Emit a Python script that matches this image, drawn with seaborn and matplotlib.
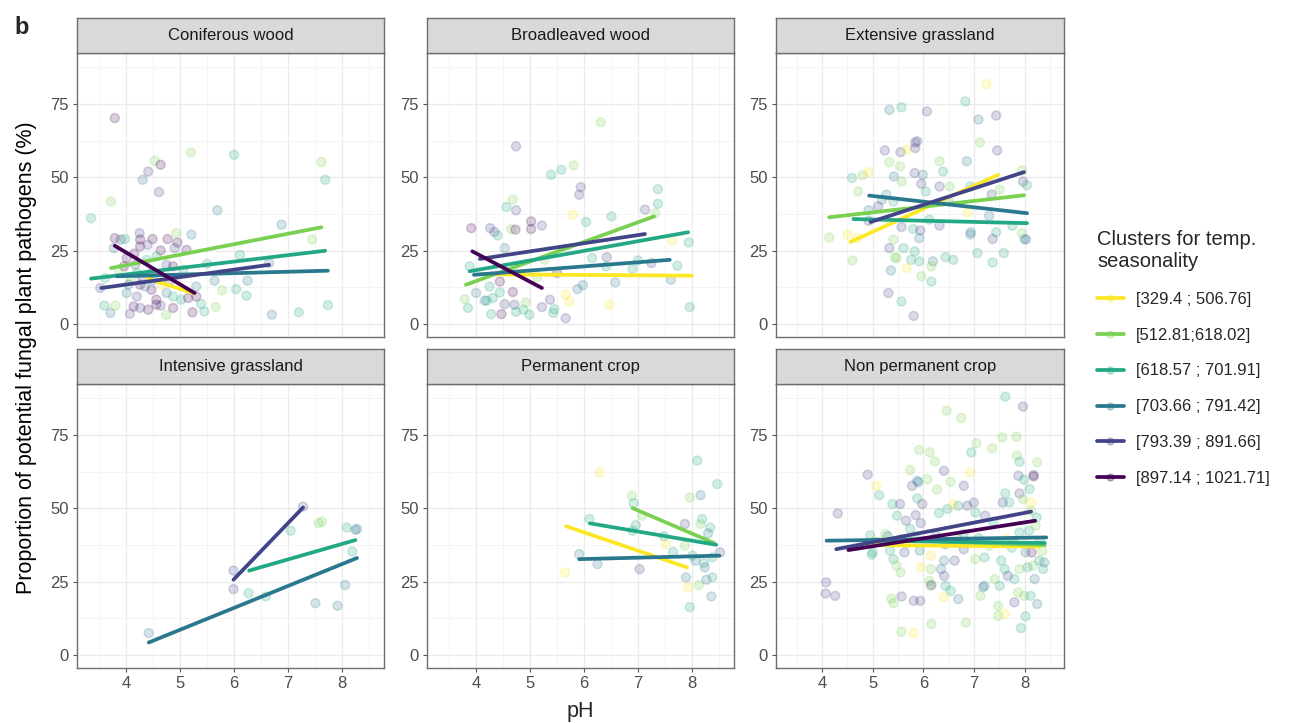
import matplotlib
matplotlib.use("Agg")
import matplotlib.pyplot as plt
from matplotlib.lines import Line2D
import pandas as pd
import seaborn as sns

# --- Data ---
CLUSTERS = ["[329.4 ; 506.76]", "[512.81;618.02]", "[618.57 ; 701.91]",
            "[703.66 ; 791.42]", "[793.39 ; 891.66]", "[897.14 ; 1021.71]"]
PALETTE = ["#FDE725", "#7AD151", "#22A884", "#2A788E", "#414487", "#440154"]
PANELS = ["Coniferous wood", "Broadleaved wood", "Extensive grassland",
          "Intensive grassland", "Permanent crop", "Non permanent crop"]

conif_ph = [3.79, 3.35, 3.72, 4.31, 4.41, 4.53, 4.64, 4.61, 5.20, 6.00,
            5.69, 6.88, 7.62, 7.69, 7.45, 7.74, 7.20, 6.70, 6.23, 6.25,
            6.04, 5.78, 6.11, 5.50, 5.64, 5.21, 5.66, 5.45, 5.39, 6.65,
            5.12,
            3.79, 3.90, 3.98, 4.25, 4.26, 4.49, 4.77, 4.95, 4.90, 4.64,
            4.26, 3.77, 4.01, 3.96, 4.17, 4.38, 4.56, 4.75, 4.87, 5.06,
            4.10, 4.26, 4.47, 4.66, 4.01, 4.20, 4.35, 4.56, 4.75, 4.87,
            5.02, 5.15, 5.30, 4.14, 4.26, 4.41, 4.56, 4.64, 4.74, 4.87,
            5.23, 4.07, 3.71, 3.60, 3.80, 3.52, 3.61, 3.86, 4.20, 4.47,
            4.93, 5.30, 4.05, 4.30, 4.50, 4.80, 4.15, 4.40]
conif_pct = [70.2, 36.1, 41.8, 49.2, 52.0, 55.7, 54.3, 45.0, 58.5, 57.7,
             38.8, 33.9, 55.2, 49.2, 28.8, 6.5, 4.0, 3.2, 9.7, 14.8,
             11.9, 11.5, 23.6, 20.5, 14.8, 30.5, 5.8, 4.3, 6.9, 20.8,
             25.3,
             29.3, 28.8, 29.0, 31.0, 28.8, 29.0, 29.0, 27.8, 25.9, 25.1,
             26.5, 25.9, 22.5, 19.7, 20.2, 21.9, 23.1, 20.2, 19.7, 18.5,
             15.1, 13.4, 11.7, 13.4, 10.6, 9.4, 12.8, 8.3, 10.6, 9.4,
             8.3, 8.9, 9.4, 6.0, 5.5, 4.9, 6.6, 6.3, 3.2, 5.5,
             4.0, 3.5, 3.8, 6.3, 6.3, 12.3, 15.7, 18.5, 17.4, 17.4,
             31.0, 12.8, 13.5, 16.0, 15.0, 14.5, 24.0, 27.0]
conif_cl = [6, 3, 2, 4, 5, 2, 6, 5, 2, 3,
            4, 4, 2, 3, 2, 3, 3, 4, 3, 4,
            3, 2, 3, 3, 4, 4, 2, 3, 3, 4,
            6,
            6, 5, 3, 5, 6, 6, 6, 6, 5, 6,
            6, 4, 6, 6, 5, 3, 3, 5, 6, 3,
            2, 6, 6, 1, 4, 5, 4, 6, 4, 3,
            3, 6, 6, 6, 5, 6, 6, 5, 2, 6,
            6, 5, 4, 3, 2, 5, 3, 2, 3, 6,
            2, 4, 4, 5, 4, 5, 6, 5]

broad_ph = [4.74, 6.31, 5.39, 5.58, 5.81, 5.94, 5.91, 4.68, 4.56, 4.74,
            6.51, 6.04, 5.79, 3.91, 4.26, 4.34, 4.40, 4.65, 4.73, 5.02,
            5.02, 5.22, 7.13, 7.32, 7.37, 7.37, 7.94, 7.64, 7.73, 7.61,
            7.96, 6.47, 6.15, 6.42, 6.41, 6.58, 5.98, 5.88, 6.90, 7.00,
            7.25, 5.66, 5.73, 5.50, 4.53, 4.44, 4.44, 4.25, 4.00, 3.79,
            3.85, 4.16, 4.20, 4.31, 4.53, 4.71, 4.68, 4.28, 4.47, 4.74,
            4.88, 4.99, 4.92, 5.22, 5.37, 5.43, 5.45, 5.66, 3.88, 5.13,
            5.27]
broad_pct = [60.6, 68.8, 50.9, 52.6, 54.1, 46.7, 44.1, 42.4, 39.9, 38.8,
             36.7, 34.8, 37.3, 32.7, 32.7, 31.4, 30.2, 32.4, 32.2, 35.0,
             32.4, 33.6, 39.0, 37.8, 41.0, 46.0, 27.8, 28.5, 19.9, 15.1,
             5.8, 6.6, 22.5, 22.8, 19.7, 14.2, 13.3, 11.9, 18.8, 21.7,
             20.8, 10.0, 7.7, 17.4, 25.9, 14.5, 10.8, 12.8, 10.6, 8.5,
             5.5, 8.0, 8.0, 8.9, 6.8, 6.6, 10.9, 3.4, 3.4, 4.2,
             4.9, 3.2, 7.4, 5.8, 8.3, 3.8, 5.1, 2.0, 19.7, 16.0,
             21.9]
broad_cl = [5, 2, 3, 3, 2, 5, 5, 2, 3, 5,
            3, 3, 1, 6, 5, 5, 3, 2, 6, 6,
            6, 5, 5, 2, 3, 3, 3, 1, 3, 4,
            3, 1, 3, 5, 3, 4, 4, 4, 3, 3,
            5, 1, 1, 6, 4, 6, 3, 3, 4, 2,
            3, 4, 3, 3, 5, 5, 6, 3, 6, 3,
            3, 3, 2, 5, 5, 3, 3, 5, 3, 2,
            2]

ext_ph = [7.25, 5.33, 5.57, 6.07, 6.83, 7.09, 7.44, 7.12, 7.46, 5.24,
          5.55, 5.67, 5.84, 5.88, 5.84, 5.33, 5.54, 6.32, 6.39, 6.86,
          5.42, 4.59, 4.80, 4.92, 4.71, 5.57, 5.83, 5.99, 6.05, 5.96,
          6.32, 6.52, 6.93, 7.51, 7.95, 7.97, 8.05, 7.35, 7.30, 7.44,
          7.37, 7.95, 8.00, 8.03, 7.76, 7.59, 7.37, 7.07, 6.93, 6.94,
          6.88, 6.50, 6.32, 6.44, 6.59, 6.19, 6.16, 6.16, 5.96, 5.83,
          5.92, 5.76, 5.67, 5.61, 5.41, 5.33, 5.44, 5.47, 5.36, 5.31,
          5.57, 5.81, 5.57, 5.80, 5.94, 5.92, 6.12, 5.11, 4.92, 4.92,
          5.27, 5.41, 4.50, 4.14, 4.60, 4.69, 5.18]
ext_pct = [81.8, 73.0, 73.9, 72.5, 75.9, 69.7, 71.1, 61.9, 59.2, 59.2,
           58.6, 59.4, 61.9, 62.3, 60.0, 55.2, 53.8, 55.5, 52.0, 55.5,
           50.3, 49.8, 50.7, 51.8, 45.2, 48.6, 51.5, 50.9, 45.2, 47.8,
           46.9, 46.9, 46.9, 45.8, 52.4, 48.6, 47.3, 44.2, 36.9, 31.3,
           29.0, 31.0, 29.0, 28.8, 33.5, 24.2, 21.0, 24.2, 30.5, 31.3,
           38.1, 41.8, 33.6, 22.8, 21.9, 21.4, 19.7, 14.5, 16.3, 24.8,
           21.4, 21.9, 19.1, 25.9, 28.8, 25.9, 22.7, 22.5, 18.3, 10.6,
           7.7, 2.8, 33.1, 32.4, 31.9, 29.3, 35.6, 40.1, 38.8, 35.2,
           44.1, 41.8, 30.5, 29.5, 21.7, 29.3, 42.4]
ext_cl = [1, 4, 3, 5, 3, 4, 5, 2, 5, 5,
          5, 1, 5, 5, 5, 2, 2, 2, 3, 4,
          4, 3, 2, 1, 2, 2, 5, 4, 3, 5,
          5, 2, 3, 2, 2, 5, 3, 5, 4, 3,
          5, 2, 4, 4, 3, 3, 3, 3, 4, 4,
          1, 3, 5, 3, 3, 4, 2, 3, 2, 3,
          3, 3, 1, 3, 2, 5, 2, 2, 4, 5,
          3, 5, 5, 3, 5, 4, 3, 5, 4, 5,
          4, 3, 1, 2, 2, 1, 4]

int_ph = [4.42, 5.99, 5.99, 6.27, 6.59, 7.05, 7.28, 7.57, 7.63, 7.51,
          7.92, 8.06, 8.09, 8.25, 8.28, 8.19]
int_pct = [7.5, 28.8, 22.5, 21.1, 20.0, 42.4, 50.6, 45.0, 45.5, 17.7,
           16.8, 23.9, 43.5, 42.7, 43.0, 35.3]
int_cl = [4, 5, 5, 3, 3, 3, 5, 2, 2, 4,
          4, 4, 3, 4, 4, 3]

perm_ph = [6.29, 5.65, 5.91, 6.10, 6.25, 6.89, 6.92, 6.96, 7.08, 6.90,
           7.03, 7.48, 7.65, 7.87, 7.96, 8.10, 8.47, 8.16, 8.19, 8.34,
           8.30, 8.16, 7.87, 7.89, 7.93, 7.96, 8.13, 8.27, 8.38, 8.36,
           8.52, 8.07, 8.22, 8.24, 8.38, 8.01, 7.51]
perm_pct = [62.3, 28.2, 34.4, 46.4, 31.0, 54.3, 51.8, 44.3, 47.5, 42.4,
            29.3, 40.5, 35.2, 44.7, 53.7, 66.3, 58.3, 54.5, 46.4, 43.5,
            41.5, 44.7, 37.3, 26.5, 23.1, 16.3, 23.9, 25.7, 26.5, 20.0,
            35.0, 32.2, 31.4, 29.9, 33.3, 33.9, 37.8]
perm_cl = [1, 1, 4, 3, 4, 2, 3, 3, 2, 3,
           5, 3, 3, 5, 2, 3, 3, 4, 3, 3,
           4, 2, 2, 4, 1, 3, 2, 4, 3, 4,
           5, 4, 3, 4, 3, 3, 1]

nonperm_ph = [7.62, 7.97, 6.46, 6.75, 7.56, 7.84, 7.05, 7.36, 6.95, 5.92,
              6.13, 6.23, 7.85, 7.90, 8.25, 4.90, 5.74, 6.41, 6.92, 7.88,
              7.99, 8.18, 8.18, 5.13, 5.07, 5.88, 5.90, 5.78, 6.08, 6.54,
              6.80, 6.27, 7.62, 7.57, 7.90, 8.10, 5.88, 5.98, 4.31, 5.39,
              5.54, 5.48, 5.66, 5.85, 5.95, 6.31, 6.48, 6.59, 6.69, 6.87,
              7.00, 7.03, 7.22, 7.38, 7.70, 7.97, 8.13, 8.24, 4.08, 4.07,
              4.26, 5.00, 5.25, 5.34, 5.41, 5.47, 5.55, 5.57, 5.63, 5.74,
              5.72, 5.93, 6.15, 5.95, 6.15, 6.12, 6.15, 6.35, 6.41, 6.44,
              6.54, 6.40, 6.69, 6.62, 6.41, 6.80, 7.03, 7.21, 7.18, 7.21,
              7.13, 7.41, 7.51, 7.54, 7.61, 7.67, 7.80, 7.87, 7.80, 7.99,
              8.12, 8.25, 7.48, 7.48, 7.61, 8.02, 7.93, 6.84, 6.16, 5.57,
              5.81, 5.37, 5.41, 5.57, 5.81, 5.94, 6.16, 8.14, 8.17, 8.29,
              8.37, 8.39, 8.20, 8.06, 7.90, 8.02, 7.77, 7.90, 7.64, 8.13,
              8.09, 8.22, 6.70, 6.80, 6.43, 4.98, 5.30, 5.85, 6.25, 6.60,
              7.10, 7.30, 7.75, 8.30, 8.35, 4.95]
nonperm_pct = [88.1, 84.7, 83.3, 80.8, 74.2, 74.4, 72.2, 70.5, 69.1, 69.9,
               69.1, 66.0, 68.0, 65.9, 65.7, 61.5, 63.1, 62.8, 62.3, 61.1,
               59.8, 61.4, 60.9, 54.5, 57.7, 59.4, 58.9, 57.7, 60.0, 59.1,
               57.7, 56.4, 55.1, 52.0, 55.1, 56.6, 53.4, 51.5, 48.3, 51.5,
               51.5, 47.5, 45.8, 47.7, 45.0, 48.4, 49.8, 51.5, 50.9, 50.9,
               52.0, 48.6, 47.5, 45.5, 52.0, 53.2, 49.2, 46.9, 24.8, 21.0,
               20.2, 35.0, 41.3, 35.6, 32.7, 30.5, 28.2, 39.5, 35.0, 43.0,
               38.2, 35.6, 33.9, 29.9, 29.3, 25.3, 23.6, 29.3, 27.0, 23.6,
               21.9, 19.7, 19.1, 32.2, 32.2, 36.1, 32.7, 33.3, 23.1, 23.6,
               20.2, 25.9, 23.6, 32.2, 29.3, 27.0, 25.9, 21.4, 18.0, 20.2,
               20.2, 17.4, 16.8, 13.4, 14.0, 13.2, 9.2, 11.1, 10.6, 8.0,
               7.5, 19.3, 17.7, 20.0, 18.5, 18.5, 23.9, 35.0, 30.5, 32.2,
               29.3, 31.6, 25.9, 29.9, 29.3, 35.0, 38.4, 41.8, 39.5, 52.0,
               42.4, 44.1, 39.5, 41.3, 37.8, 34.2, 40.5, 40.5, 40.8, 38.5,
               39.8, 37.2, 36.6, 38.8, 35.5, 40.8]
nonperm_cl = [3, 5, 2, 2, 2, 2, 2, 2, 3, 2,
              2, 2, 2, 3, 2, 5, 2, 5, 1, 5,
              3, 5, 6, 3, 1, 4, 4, 5, 2, 2,
              5, 2, 3, 5, 5, 3, 3, 5, 5, 3,
              5, 3, 5, 5, 5, 3, 3, 1, 3, 5,
              5, 3, 5, 3, 3, 2, 2, 3, 5, 5,
              5, 3, 2, 3, 3, 2, 2, 3, 5, 3,
              1, 4, 1, 1, 2, 2, 2, 4, 5, 3,
              3, 1, 4, 5, 4, 5, 2, 3, 4, 4,
              2, 2, 3, 3, 3, 5, 3, 2, 5, 2,
              3, 4, 2, 2, 1, 3, 3, 2, 2, 2,
              1, 2, 2, 5, 5, 5, 5, 6, 2, 3,
              3, 4, 4, 3, 2, 4, 3, 3, 1, 1,
              3, 2, 2, 3, 5, 3, 4, 3, 4, 3,
              3, 2, 3, 3, 2, 3]

# fitted lines (start / end of each cluster's regression line per panel)
line_panel = [0, 0, 0, 0, 0, 0, 1, 1, 1, 1, 1, 1, 2, 2, 2, 2, 2,
              3, 3, 3, 4, 4, 4, 4, 5, 5, 5, 5, 5, 5]
line_cl = [1, 2, 3, 4, 5, 6, 1, 2, 3, 4, 5, 6, 1, 2, 3, 4, 5,
           3, 4, 5, 1, 2, 3, 4, 1, 2, 3, 4, 5, 6]
line_ph0 = [4.40, 3.72, 3.35, 3.83, 3.54, 3.79, 4.10, 3.81, 3.88, 3.96, 4.07, 3.93,
            4.56, 4.14, 4.62, 4.93, 4.96, 6.28, 4.42, 5.99, 5.67, 6.90, 6.11, 5.91,
            5.00, 5.00, 5.00, 4.09, 4.28, 4.52]
line_ph1 = [5.26, 7.62, 7.69, 7.74, 6.65, 5.27, 8.00, 7.30, 7.93, 7.59, 7.13, 5.22,
            7.48, 7.99, 8.05, 8.05, 7.99, 8.25, 8.28, 7.28, 7.91, 8.41, 8.45, 8.51,
            8.30, 8.40, 8.40, 8.43, 8.13, 8.21]
line_pct0 = [15.5, 19.1, 15.5, 16.3, 12.3, 26.7, 17.0, 13.4, 18.0, 16.8, 22.2, 24.8,
             28.0, 36.4, 35.8, 43.8, 34.8, 28.8, 4.3, 25.7, 43.9, 50.1, 44.9, 32.7,
             37.5, 39.5, 39.0, 39.0, 36.1, 35.8]
line_pct1 = [10.5, 33.0, 25.0, 18.2, 20.2, 10.6, 16.5, 36.7, 31.3, 21.9, 30.7, 12.3,
             50.9, 43.9, 34.4, 37.8, 51.8, 39.2, 33.1, 50.3, 29.9, 38.2, 37.6, 33.9,
             37.0, 37.5, 38.2, 40.1, 48.9, 45.8]

# --- Build tables ---
point_sets = [(conif_ph, conif_pct, conif_cl), (broad_ph, broad_pct, broad_cl),
              (ext_ph, ext_pct, ext_cl), (int_ph, int_pct, int_cl),
              (perm_ph, perm_pct, perm_cl), (nonperm_ph, nonperm_pct, nonperm_cl)]
frames = []
for name, (ph, pct, cl) in zip(PANELS, point_sets):
    frames.append(pd.DataFrame({"panel": name, "ph": ph, "pct": pct,
                                "cluster": [CLUSTERS[c - 1] for c in cl]}))
points = pd.concat(frames, ignore_index=True)

rows = []
for i, p in enumerate(line_panel):
    for x, y in ((line_ph0[i], line_pct0[i]), (line_ph1[i], line_pct1[i])):
        rows.append({"panel": PANELS[p], "line": i, "ph": x, "pct": y,
                     "cluster": CLUSTERS[line_cl[i] - 1]})
lines = pd.DataFrame(rows)

# --- Style ---
sns.set_theme(style="white")
plt.rcParams["font.family"] = ["Liberation Sans", "DejaVu Sans"]

W, H = 1307, 723
fig = plt.figure(figsize=(W / 100, H / 100), dpi=100)


def rect(x0, y0, x1, y1):
    return [x0 / W, 1 - y1 / H, (x1 - x0) / W, (y1 - y0) / H]


COLS = [(77, 384), (427, 734), (776, 1064)]
PLOT_ROWS = [(53, 337), (384, 668)]
STRIP_ROWS = [(18, 53), (349, 384)]
BORDER = "#6E6E6E"

for k, name in enumerate(PANELS):
    r, c = divmod(k, 3)
    x0, x1 = COLS[c]
    ax = fig.add_axes(rect(x0, PLOT_ROWS[r][0], x1, PLOT_ROWS[r][1]))
    sns.scatterplot(data=points[points.panel == name], x="ph", y="pct",
                    hue="cluster", hue_order=CLUSTERS, palette=PALETTE,
                    s=42, alpha=0.2, edgecolor="face", linewidth=1.1,
                    legend=False, ax=ax, zorder=2)
    sns.lineplot(data=lines[lines.panel == name], x="ph", y="pct",
                 hue="cluster", hue_order=CLUSTERS, palette=PALETTE,
                 units="line", estimator=None, sort=False, linewidth=2.7,
                 legend=False, ax=ax, zorder=3)
    ax.set_xlim(3.09, 8.78)
    ax.set_ylim(-4.4, 92.4)
    ax.set_xticks([4, 5, 6, 7, 8])
    ax.set_xticks([3.5, 4.5, 5.5, 6.5, 7.5, 8.5], minor=True)
    ax.set_yticks([0, 25, 50, 75])
    ax.set_yticks([12.5, 37.5, 62.5, 87.5], minor=True)
    ax.grid(which="major", color="#EBEBEB", linewidth=1.0)
    ax.grid(which="minor", color="#F2F2F2", linewidth=0.6)
    ax.set_axisbelow(True)
    ax.set_xlabel("")
    ax.set_ylabel("")
    ax.tick_params(which="major", length=3, width=0.8, color="#555555",
                   labelsize=12, labelcolor="#4D4D4D", pad=3,
                   left=True, bottom=(r == 1), labelbottom=(r == 1))
    ax.tick_params(which="minor", length=0)
    for sp in ax.spines.values():
        sp.set_color(BORDER)
        sp.set_linewidth(1.0)

    strip = fig.add_axes(rect(x0, STRIP_ROWS[r][0], x1, STRIP_ROWS[r][1]))
    strip.set_facecolor("#D9D9D9")
    strip.set_xticks([])
    strip.set_yticks([])
    for sp in strip.spines.values():
        sp.set_color(BORDER)
        sp.set_linewidth(1.0)
    strip.text(0.5, 0.5, name, ha="center", va="center", fontsize=12,
               color="#1A1A1A", transform=strip.transAxes)

# axis titles and panel tag
fig.text(27 / W, 1 - 358 / H, "Proportion of potential fungal plant pathogens (%)",
         rotation=90, ha="center", va="center", fontsize=15.5, color="#000000")
fig.text(580 / W, 1 - 711 / H, "pH", ha="center", va="center", fontsize=15.5)
fig.text(14 / W, 1 - 27 / H, "b", ha="left", va="center", fontsize=17,
         fontweight="bold")

# legend
handles = [Line2D([0], [0], color=col, lw=2.7, marker="o", markersize=5,
                  markerfacecolor=(*matplotlib.colors.to_rgb(col), 0.3),
                  markeredgecolor=(*matplotlib.colors.to_rgb(col), 0.3))
           for col in PALETTE]
leg = fig.legend(handles, CLUSTERS, title="Clusters for temp.\nseasonality",
                 loc="upper left", bbox_to_anchor=(1097 / W, 1 - 230 / H),
                 frameon=False, fontsize=12, title_fontsize=14.5,
                 handlelength=1.6, handletextpad=0.75, labelspacing=1.25,
                 borderpad=0, borderaxespad=0, alignment="left")

fig.savefig("out.png", dpi=100)
